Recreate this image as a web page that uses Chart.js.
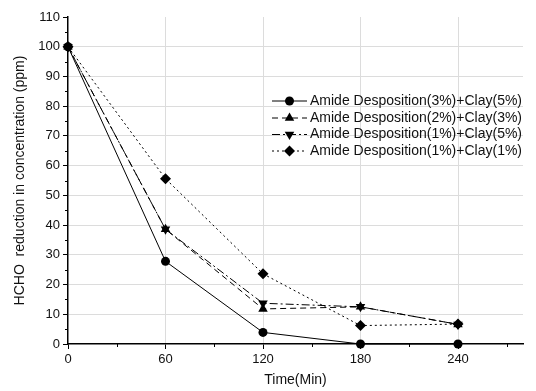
<!DOCTYPE html>
<html>
<head>
<meta charset="utf-8">
<script src="https://cdn.jsdelivr.net/npm/chart.js@4/dist/chart.umd.min.js"></script>
<style>
	html, body { margin: 0; padding: 0; background: #fff; }
	#wrap { width: 536px; height: 391px; }
</style>
</head>
<body>
<div id="wrap"><canvas id="chart" width="536" height="391"></canvas></div>
<script>
// time points (min)
const times = [0, 60, 120, 180, 240];

// HCHO reduction (ppm)
const seriesLabels = [
	'Amide Desposition(3%)+Clay(5%)',
	'Amide Desposition(2%)+Clay(3%)',
	'Amide Desposition(1%)+Clay(5%)',
	'Amide Desposition(1%)+Clay(1%)'
];
const amide3clay5 = [100, 27.8, 3.9, 0, 0];
const amide2clay3 = [100, 38.6, 11.8, 12.5, 6.6];
const amide1clay5 = [100, 38.6, 13.7, 12.5, 6.6];
const amide1clay1 = [100, 55.6, 23.6, 6.2, 6.7];

const xTicks = [0, 30, 60, 90, 120, 150, 180, 210, 240, 270];
const yTicks = [0, 5, 10, 15, 20, 25, 30, 35, 40, 45, 50, 55, 60, 65, 70, 75, 80, 85, 90, 95, 100, 105, 110];

const xTitle = 'Time(Min)';
const yTitle = 'HCHO  reduction in concentration (ppm)';

const FONT = '"Liberation Sans", Arial, sans-serif';
const INK = '#111';

const styles = [
	{ dash: [], point: 'circle', radius: 4.5 },
	{ dash: [6, 4], point: 'triangle', radius: 5.5 },
	{ dash: [8, 3, 2, 3], point: 'triangle', radius: 5.5, rotation: 180 },
	{ dash: [2, 3], point: 'rectRot', radius: 5.5 }
];

const isMajorX = v => v % 60 === 0;
const isMajorY = v => v % 10 === 0;

const makeSet = (label, values, st) => ({
	label: label,
	data: times.map((t, i) => ({ x: t, y: values[i] })),
	borderColor: '#000',
	backgroundColor: '#000',
	borderWidth: 1,
	borderDash: st.dash,
	pointStyle: st.point,
	pointRadius: st.radius,
	pointRotation: st.rotation || 0,
	pointBorderWidth: 0,
	tension: 0,
	fill: false,
	clip: false
});

// shorter minor ticks, placed with the scales
const minorTicks = {
	id: 'minorTicks',
	afterDraw(chart) {
		const ctx = chart.ctx;
		const xs = chart.scales.x, ys = chart.scales.y;
		ctx.save();
		ctx.strokeStyle = '#000';
		ctx.lineWidth = 1;
		ctx.beginPath();
		xTicks.filter(v => !isMajorX(v)).forEach(v => {
			const px = Math.round(xs.getPixelForValue(v)) + 0.5;
			ctx.moveTo(px, xs.top);
			ctx.lineTo(px, xs.top + 3);
		});
		yTicks.filter(v => !isMajorY(v)).forEach(v => {
			const py = Math.round(ys.getPixelForValue(v)) + 0.5;
			ctx.moveTo(ys.right - 3, py);
			ctx.lineTo(ys.right, py);
		});
		ctx.stroke();
		ctx.restore();
	}
};

// legend drawn inside the plot, line sample + marker like the original
const innerLegend = {
	id: 'innerLegend',
	afterDraw(chart) {
		const ctx = chart.ctx;
		const x0 = 272, x1 = 307, tx = 310;
		const rowY = [101, 118, 134.5, 151];
		ctx.save();
		chart.data.datasets.forEach((ds, i) => {
			const y = rowY[i];
			ctx.strokeStyle = '#000';
			ctx.lineWidth = 1;
			ctx.setLineDash(ds.borderDash);
			ctx.beginPath();
			ctx.moveTo(x0, y);
			ctx.lineTo(x1, y);
			ctx.stroke();
			ctx.setLineDash([]);
			ctx.fillStyle = '#000';
			Chart.helpers.drawPoint(ctx, {
				pointStyle: ds.pointStyle,
				radius: ds.pointRadius,
				rotation: ds.pointRotation,
				borderWidth: 0
			}, (x0 + x1) / 2, y);
			ctx.fillStyle = INK;
			ctx.font = '14px ' + FONT;
			ctx.textBaseline = 'middle';
			ctx.textAlign = 'left';
			ctx.fillText(ds.label, tx, y);
		});
		ctx.restore();
	}
};

new Chart(document.getElementById('chart'), {
	type: 'line',
	data: {
		datasets: [
			makeSet(seriesLabels[0], amide3clay5, styles[0]),
			makeSet(seriesLabels[1], amide2clay3, styles[1]),
			makeSet(seriesLabels[2], amide1clay5, styles[2]),
			makeSet(seriesLabels[3], amide1clay1, styles[3])
		]
	},
	options: {
		responsive: false,
		animation: false,
		layout: { padding: { top: 17, right: 13, left: 0, bottom: 0 } },
		plugins: {
			legend: { display: false },
			tooltip: { enabled: false }
		},
		scales: {
			x: {
				type: 'linear',
				min: 0,
				max: 280,
				afterBuildTicks: s => { s.ticks = xTicks.map(v => ({ value: v })); },
				afterFit: s => { s.height = 47; },
				ticks: {
					autoSkip: false,
					maxRotation: 0,
					color: INK,
					padding: 3,
					font: { family: FONT, size: 13 },
					callback: v => (isMajorX(v) ? String(v) : '')
				},
				grid: {
					color: c => (c.tick && isMajorX(c.tick.value) && c.tick.value !== 0 ? '#dcdcdc' : 'rgba(0,0,0,0)'),
					tickColor: c => (c.tick && isMajorX(c.tick.value) ? '#000' : 'rgba(0,0,0,0)'),
					tickLength: 5
				},
				border: { color: '#000', width: 1.5 },
				title: {
					display: true,
					text: xTitle,
					color: INK,
					font: { family: FONT, size: 14 },
					padding: { top: 0, bottom: 2 }
				}
			},
			y: {
				min: 0,
				max: 110,
				afterBuildTicks: s => { s.ticks = yTicks.map(v => ({ value: v })); },
				afterFit: s => { s.width = 68; },
				ticks: {
					autoSkip: false,
					color: INK,
					padding: 3,
					font: { family: FONT, size: 13 },
					callback: v => (isMajorY(v) ? String(v) : '')
				},
				grid: {
					color: c => (c.tick && isMajorY(c.tick.value) && c.tick.value !== 0 && c.tick.value !== 110 ? '#dcdcdc' : 'rgba(0,0,0,0)'),
					tickColor: c => (c.tick && isMajorY(c.tick.value) ? '#000' : 'rgba(0,0,0,0)'),
					tickLength: 5
				},
				border: { color: '#000', width: 1.5 },
				title: {
					display: true,
					text: yTitle,
					color: INK,
					font: { family: FONT, size: 14 },
					padding: { top: 12, bottom: 0 }
				}
			}
		}
	},
	plugins: [minorTicks, innerLegend]
});
</script>
</body>
</html>
